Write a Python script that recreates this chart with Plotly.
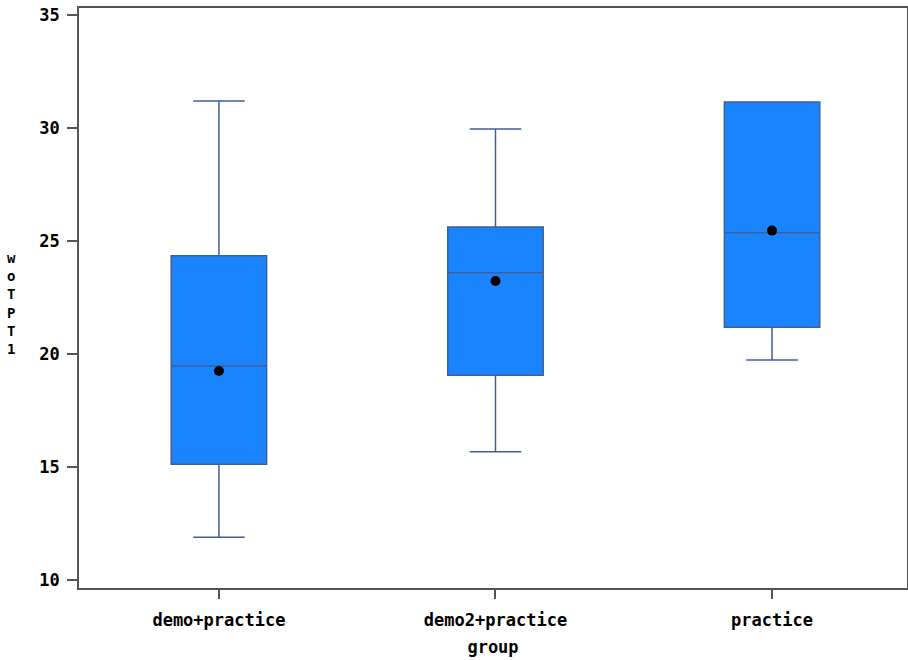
import plotly.graph_objects as go

groups = ["demo+practice", "demo2+practice", "practice"]
lower_whisker = [11.89, 15.68, 19.73]
q1 = [15.12, 19.06, 21.18]
median = [19.47, 23.60, 25.37]
q3 = [24.35, 25.62, 31.15]
upper_whisker = [31.19, 29.96, 31.15]
mean = [19.25, 23.23, 25.46]
y_ticks = [10, 15, 20, 25, 30, 35]
y_title_letters = ["w", "o", "T", "P", "T", "1"]

font_family = "DejaVu Sans Mono"

fig = go.Figure()
fig.add_trace(go.Box(
    x=groups,
    q1=q1, median=median, q3=q3,
    lowerfence=lower_whisker, upperfence=upper_whisker,
    fillcolor="#1a84ff",
    line=dict(color="#3f5f98", width=1.5),
    width=0.345,
    whiskerwidth=0.54,
    boxpoints=False,
    showlegend=False,
    hoverinfo="skip",
))
fig.add_trace(go.Scatter(
    x=groups, y=mean, mode="markers",
    marker=dict(color="black", size=10, symbol="circle"),
    showlegend=False,
))

fig.update_layout(
    width=908, height=660,
    margin=dict(l=79, r=1, t=8, b=72),
    plot_bgcolor="white", paper_bgcolor="white",
    font=dict(family=font_family, size=17, color="black", weight="bold"),
    xaxis=dict(
        type="category",
        range=[-0.506, 2.488],
        automargin=False,
        showline=True, linecolor="#555555", linewidth=1.5, mirror=True,
        ticks="outside", ticklen=9, tickcolor="#555555", tickwidth=1.5,
        ticklabelstandoff=7,
        showgrid=False, zeroline=False,
        tickfont=dict(family=font_family, size=17, weight="bold"),
        title=dict(text="group", standoff=12,
                   font=dict(family=font_family, size=17, weight="bold")),
    ),
    yaxis=dict(
        range=[9.646, 35.31],
        tickvals=y_ticks,
        automargin=False,
        showline=True, linecolor="#555555", linewidth=1.5, mirror=True,
        ticks="outside", ticklen=10, tickcolor="#555555", tickwidth=1.5,
        ticklabelstandoff=4,
        showgrid=False, zeroline=False,
        tickfont=dict(family=font_family, size=17, weight="bold"),
    ),
    annotations=[dict(
        text="<br>".join(y_title_letters),
        xref="paper", yref="paper", x=0, y=0.49,
        xshift=-68, xanchor="center", yanchor="middle",
        showarrow=False, align="center",
        font=dict(family=font_family, size=14, weight="bold"),
    )],
)

fig.write_html("out.html", config={"displayModeBar": False},
               post_script="document.body.style.margin='0px';")
